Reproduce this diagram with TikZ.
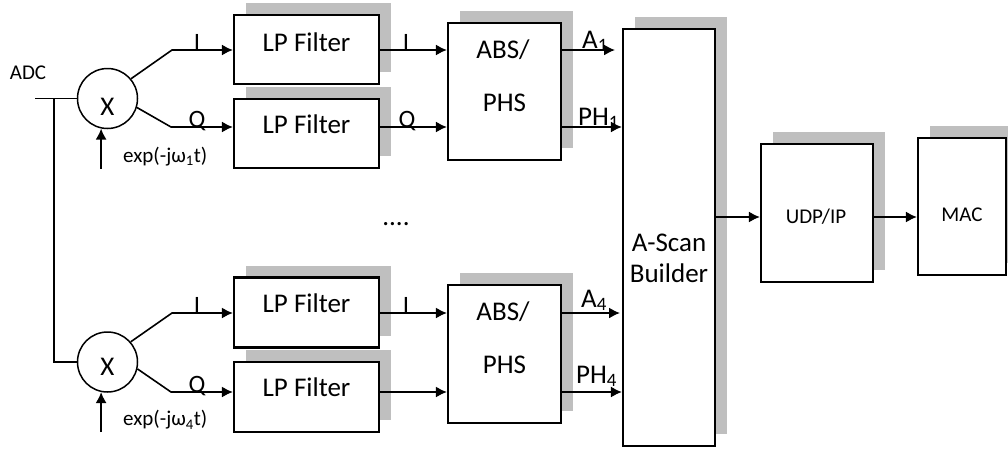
\documentclass[tikz,border=0pt]{standalone}
\usepackage{fontspec}
\setmainfont{Carlito}
\usetikzlibrary{arrows.meta,shadows,calc}
\begin{document}
\begin{tikzpicture}[x=1pt,y=-1pt,
  box/.style={draw, line width=2.2pt, fill=white, inner sep=0pt,
    general shadow={fill=black!25, shadow xshift=12pt, shadow yshift=12pt}},
  mix/.style={draw, circle, line width=1.5pt, minimum size=60pt, inner sep=0pt},
  ln/.style={line width=1.6pt},
  ar/.style={line width=1.6pt, -{Latex[length=11pt,width=11pt]}},
  big/.style={font=\fontsize{27}{32}\selectfont, inner sep=0pt},
  mid/.style={font=\fontsize{21}{25}\selectfont, inner sep=0pt},
  lab/.style={font=\fontsize{25}{30}\selectfont, inner sep=0pt, anchor=base},
  sig/.style={font=\fontsize{27}{32}\selectfont, inner sep=0pt, anchor=base west}]
\clip (0,0) rectangle (1008,448);
% boxes
\node[box, minimum width=145pt, minimum height=69pt] (lp1) at (306.5,49.5) {};
\node[box, minimum width=145pt, minimum height=69pt] (lp2) at (306.5,133.5) {};
\node[box, minimum width=145pt, minimum height=70pt] (lp3) at (306.5,312.5) {};
\node[box, minimum width=145pt, minimum height=70pt] (lp4) at (306.5,397) {};
\node[box, minimum width=113pt, minimum height=137pt] (abs1) at (504.5,91.5) {};
\node[box, minimum width=113pt, minimum height=138pt] (abs2) at (504.5,354) {};
\node[box, minimum width=92pt, minimum height=417pt] (asb) at (669,237.5) {};
\node[box, minimum width=112pt, minimum height=138pt] (udp) at (817,213) {};
\node[box, minimum width=88pt, minimum height=137pt] (mac) at (962,206.5) {};
\node[mix] (m1) at (107.5,98.5) {};
\node[mix] (m2) at (107.5,362) {};
% box texts
\node[big] (lp1t) at (306.5,42) {LP Filter};
\node[big] (lp2t) at (306.5,124) {LP Filter};
\node[big] (lp3t) at (306.5,303) {LP Filter};
\node[big] (lp4t) at (306.5,387) {LP Filter};
\node[big] (abs1a) at (503,50) {ABS/};
\node[big] (abs1b) at (504.5,103) {PHS};
\node[big] (abs2a) at (503,312) {ABS/};
\node[big] (abs2b) at (504.5,365) {PHS};
\node[big] (asba) at (669,243) {A-Scan};
\node[big] (asbb) at (669,273) {Builder};
\node[mid] (udpt) at (816,217) {UDP/IP};
\node[mid] (mact) at (962,215) {MAC};
\node[big] (x1) at (107.5,107) {X};
\node[big] (x2) at (107.5,367) {X};
\node[mid, anchor=west] (exp1) at (123,157) {exp(-jω\textsubscript{1}t)};
\node[mid, anchor=west] (exp4) at (123,420) {exp(-jω\textsubscript{4}t)};
\node[mid] (adc) at (28,73) {ADC};
\node[big] (dots) at (396,224) {....};
% coordinates
\coordinate (adcin) at (35,98.5);
\coordinate (j) at (54,98.5);
\coordinate (k1) at (172,50);
\coordinate (k2) at (171,127);
\coordinate (k3) at (172,313);
\coordinate (k4) at (171,392);
\coordinate (e1) at ($(m1.-102)+(0,40)$);
\coordinate (e2) at ($(m2.-102)+(0,40)$);
\coordinate (a1end) at (615,50);
\coordinate (a4end) at (620,313);
\coordinate (u) at (0,217);
% connectors
\draw[ln] (adcin) -- (m1.west);
\draw[ln] (j) |- (m2.west);
\draw[ar] (m1.40) -- (k1) -- (k1 -| lp1.west);
\draw[ar] (m1.-17) -- (k2) -- (k2 -| lp2.west);
\draw[ar] (m2.41) -- (k3) -- (k3 -| lp3.west);
\draw[ar] (m2.-13) -- (k4) -- (k4 -| lp4.west);
\draw[ar] (e1) -- (m1.-102);
\draw[ar] (e2) -- (m2.-102);
\draw[ar] (lp1.east |- k1) -- (abs1.west |- k1);
\draw[ar] (lp2.east |- k2) -- (abs1.west |- k2);
\draw[ar] (lp3.east |- k3) -- (abs2.west |- k3);
\draw[ar] (lp4.east |- k4) -- (abs2.west |- k4);
\draw[ar] (abs1.east |- a1end) -- (a1end);
\draw[ar] (abs1.east |- k2) -- (asb.west |- k2);
\draw[ar] (abs2.east |- a4end) -- (a4end);
\draw[ar] (abs2.east |- k4) -- (asb.west |- k4);
\draw[ar] (asb.east |- u) -- (udp.west |- u);
\draw[ar] (udp.east |- u) -- (mac.west |- u);
% signal labels
\node[lab] (li1) at (197,50) {I};
\node[lab] (lq1) at (197,127) {Q};
\node[lab] (li1o) at (406,50) {I};
\node[lab] (lq1o) at (407,127) {Q};
\node[lab] (li4) at (197,313) {I};
\node[lab] (lq4) at (197,392) {Q};
\node[lab] (li4o) at (406,313) {I};
\node[sig] (la1) at (582,48) {A\textsubscript{1}};
\node[sig] (lph1) at (578,125) {PH\textsubscript{1}};
\node[sig] (la4) at (581,307) {A\textsubscript{4}};
\node[sig] (lph4) at (576,383) {PH\textsubscript{4}};
\end{tikzpicture}
\end{document}
